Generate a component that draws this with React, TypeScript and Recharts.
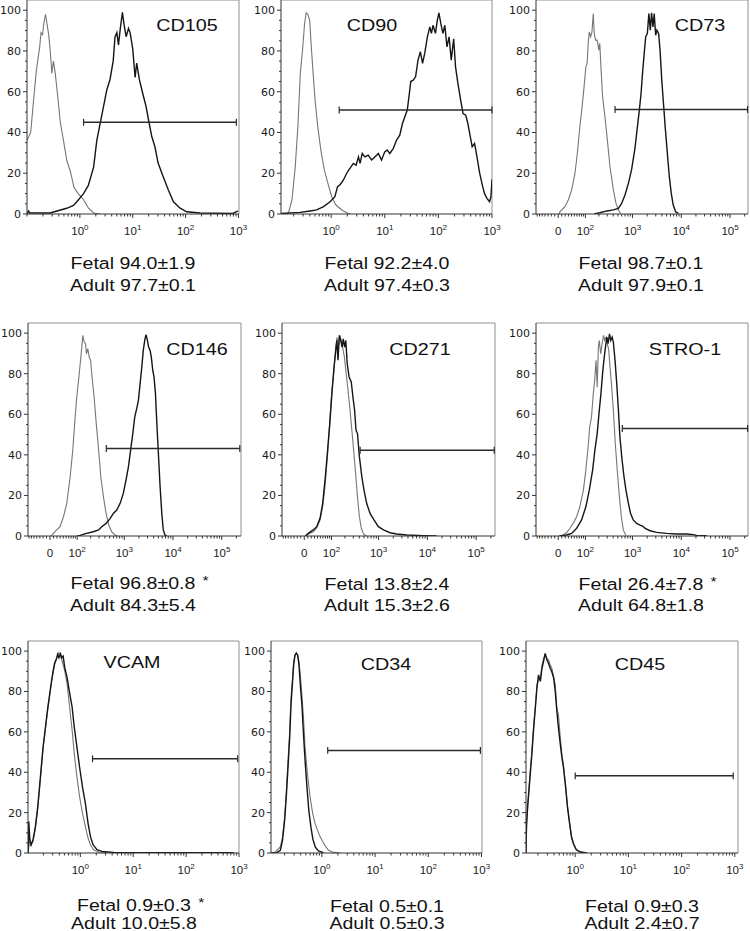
import { LineChart, Line, XAxis, YAxis, ReferenceLine } from "recharts";

type Pt = [number, number];

// x = log10 fluorescence intensity, y = % of max
const cd105Control: Pt[] = [[-1.0, 36], [-0.93, 40], [-0.875, 56], [-0.825, 70], [-0.76, 82], [-0.735, 89], [-0.705, 88], [-0.685, 93], [-0.65, 98], [-0.62, 93], [-0.59, 88], [-0.56, 80], [-0.53, 69], [-0.5, 75], [-0.465, 69], [-0.42, 58], [-0.37, 45], [-0.31, 36], [-0.245, 26], [-0.18, 21], [-0.11, 13], [-0.03, 10], [0.07, 7], [0.16, 3], [0.26, 0.5], [0.38, 0]];
const cd105Stained: Pt[] = [[-1.0, 0], [-0.97, 1.5], [-0.95, 0.5], [-0.56, 0.5], [-0.5, 1], [-0.25, 2.8], [-0.12, 4.2], [-0.03, 6.9], [0.07, 10], [0.16, 14], [0.26, 23], [0.32, 36], [0.38, 44], [0.45, 53], [0.51, 61], [0.57, 66], [0.63, 75], [0.665, 87], [0.7, 89], [0.73, 83], [0.76, 90], [0.805, 99], [0.835, 93], [0.875, 87], [0.92, 91], [0.95, 89], [1.0, 81], [1.045, 67], [1.075, 74], [1.125, 66], [1.19, 59], [1.25, 53], [1.3, 46], [1.36, 38], [1.42, 33], [1.48, 25], [1.58, 18], [1.67, 12], [1.77, 6], [1.89, 3], [2.02, 1.1], [2.27, 0.5], [2.9, 0.3], [2.99, 1.5]];

const cd90Control: Pt[] = [[-0.935, 0], [-0.82, 0], [-0.79, 1], [-0.73, 7], [-0.67, 23], [-0.62, 43], [-0.575, 69], [-0.535, 80], [-0.495, 93.5], [-0.465, 98.7], [-0.435, 98], [-0.4, 95], [-0.37, 82], [-0.34, 70.6], [-0.3, 56], [-0.25, 43], [-0.19, 31], [-0.13, 22], [-0.07, 16], [0.01, 8.5], [0.09, 4.4], [0.2, 2], [0.29, 0.6], [0.35, 0]];
const cd90Stained: Pt[] = [[-0.935, 0.3], [-0.58, 0.8], [-0.39, 1.5], [-0.27, 2], [-0.14, 3.6], [-0.02, 6], [0.07, 8.5], [0.12, 13.4], [0.17, 14.5], [0.23, 16.7], [0.29, 20], [0.35, 22.4], [0.415, 24.8], [0.465, 24], [0.51, 28], [0.54, 24.8], [0.58, 29.7], [0.63, 28], [0.69, 28.9], [0.755, 26.5], [0.815, 28], [0.88, 29.7], [0.94, 26.5], [1.0, 30.5], [1.045, 31.4], [1.095, 29.7], [1.16, 32.2], [1.22, 36.3], [1.28, 38.7], [1.33, 44.4], [1.375, 47.7], [1.42, 51], [1.455, 58.3], [1.485, 65], [1.53, 65.7], [1.575, 67.3], [1.62, 75.5], [1.665, 79.6], [1.705, 73.9], [1.745, 78.8], [1.795, 86.9], [1.84, 91.8], [1.87, 88.6], [1.9, 92.6], [1.945, 88.6], [1.98, 95], [2.01, 98.7], [2.045, 93.5], [2.085, 88.6], [2.12, 92.6], [2.16, 82], [2.2, 86.9], [2.24, 75.5], [2.285, 86], [2.32, 72.2], [2.365, 64], [2.415, 56], [2.46, 49.3], [2.51, 48.5], [2.55, 44.4], [2.595, 38], [2.63, 33], [2.675, 34.6], [2.72, 28], [2.77, 20], [2.82, 14.2], [2.86, 10], [2.905, 7.7], [2.955, 6], [2.98, 8.5], [3.0, 17]];

const cd73Control: Pt[] = [[0.5, 0], [0.68, 1.1], [1.28, 3.6], [1.47, 6.9], [1.61, 11.8], [1.72, 19.9], [1.79, 29.7], [1.86, 42.8], [1.9, 49.3], [1.96, 60.8], [2.01, 72.2], [2.04, 73.9], [2.07, 85.3], [2.09, 89.4], [2.12, 86.9], [2.15, 89.4], [2.18, 98.4], [2.2, 88.6], [2.23, 85.3], [2.265, 85.3], [2.3, 80.4], [2.32, 83.7], [2.345, 72.2], [2.38, 57.5], [2.43, 47.7], [2.48, 36.3], [2.535, 23.2], [2.605, 11.8], [2.66, 5.2], [2.71, 2], [2.755, 0.3]];
const cd73Stained: Pt[] = [[2.2, 0], [2.32, 0.6], [2.47, 1.5], [2.605, 2], [2.71, 2.8], [2.775, 5.2], [2.845, 9.3], [2.915, 15], [2.98, 21.6], [3.05, 32.2], [3.085, 39.6], [3.14, 51], [3.175, 59.1], [3.205, 69], [3.24, 78.8], [3.27, 86.9], [3.305, 88.6], [3.335, 98.4], [3.365, 90.2], [3.39, 98.7], [3.42, 91.8], [3.445, 98.4], [3.475, 87.7], [3.5, 90.2], [3.535, 88.6], [3.565, 80.4], [3.6, 65.7], [3.63, 55.9], [3.67, 42.8], [3.715, 29.7], [3.755, 18.3], [3.795, 10.1], [3.835, 4.4], [3.885, 1.1], [3.94, 0.3]];

const cd146Control: Pt[] = [[0.5, 0], [0.98, 1.3], [1.28, 3], [1.47, 4.6], [1.61, 9.5], [1.72, 16], [1.82, 29.2], [1.89, 42.3], [1.95, 58.7], [1.99, 68.5], [2.04, 78.4], [2.07, 84.9], [2.1, 91.5], [2.13, 98.9], [2.16, 95.6], [2.19, 94.8], [2.21, 89.8], [2.24, 92.3], [2.27, 88.2], [2.3, 86.6], [2.33, 78.4], [2.375, 68.5], [2.42, 55.4], [2.47, 42.3], [2.515, 29.2], [2.57, 19.3], [2.625, 11.1], [2.68, 5.4], [2.74, 2.1], [2.81, 0.5], [2.86, 0]];
const cd146Stained: Pt[] = [[2.0, 0], [2.07, 0.3], [2.21, 1.3], [2.36, 2.1], [2.47, 3], [2.535, 4.6], [2.625, 6.2], [2.71, 8.7], [2.775, 11.1], [2.845, 12.8], [2.915, 16.1], [2.98, 21], [3.035, 27.5], [3.085, 34.1], [3.13, 42.3], [3.175, 50.5], [3.215, 58.7], [3.255, 62.8], [3.29, 66.9], [3.325, 75.1], [3.36, 83.3], [3.39, 91.5], [3.42, 96.4], [3.445, 99.3], [3.475, 96.4], [3.5, 93.1], [3.53, 91.5], [3.555, 88.2], [3.585, 81.6], [3.61, 78.4], [3.64, 70.2], [3.665, 57], [3.7, 40.7], [3.735, 24.3], [3.77, 11.1], [3.8, 3], [3.835, 0.5], [3.87, 0]];

const cd271Control: Pt[] = [[0.5, 0], [1.06, 1], [1.42, 2.1], [1.57, 3.8], [1.69, 7.9], [1.77, 14.4], [1.835, 24.3], [1.9, 39], [1.96, 57], [2.01, 71.8], [2.06, 81.6], [2.1, 93.1], [2.13, 98], [2.16, 93.1], [2.19, 98.9], [2.22, 96.4], [2.25, 93.1], [2.29, 88.2], [2.32, 81.6], [2.36, 73.4], [2.41, 62], [2.46, 48.9], [2.515, 34.1], [2.565, 19.3], [2.605, 9.5], [2.645, 3.8], [2.69, 1], [2.755, 0]];
const cd271Stained: Pt[] = [[0.5, 0], [1.06, 1.3], [1.42, 3], [1.57, 4.6], [1.69, 8.7], [1.77, 16], [1.845, 29.2], [1.905, 42.3], [1.96, 55.4], [2.01, 70.2], [2.06, 83.3], [2.1, 91.5], [2.125, 96.4], [2.15, 86.6], [2.18, 98.9], [2.21, 96.4], [2.24, 93.1], [2.265, 97.2], [2.295, 93.1], [2.32, 96.4], [2.35, 84.9], [2.39, 78.4], [2.435, 75.9], [2.47, 68.5], [2.505, 62], [2.535, 52.1], [2.565, 50.5], [2.605, 39], [2.655, 29.2], [2.7, 22.6], [2.755, 16.1], [2.825, 11.1], [2.905, 7.9], [2.995, 4.6], [3.1, 3], [3.235, 1.6], [3.37, 1], [3.575, 0.5], [3.92, 0.2], [4.19, 0]];

const stro1Control: Pt[] = [[0.5, 0], [1.155, 0.5], [1.38, 1.6], [1.54, 3.8], [1.66, 6.2], [1.77, 9.5], [1.86, 14.4], [1.95, 22.6], [2.01, 32.5], [2.07, 45.6], [2.1, 53.8], [2.14, 58.7], [2.18, 70.2], [2.21, 76.7], [2.24, 86.6], [2.265, 73.4], [2.29, 93.1], [2.31, 96.4], [2.34, 89.8], [2.37, 94.8], [2.4, 98.9], [2.425, 96.4], [2.455, 98], [2.48, 94.8], [2.51, 91.5], [2.535, 83.3], [2.565, 75.1], [2.605, 62], [2.645, 45.6], [2.685, 32.5], [2.73, 19.3], [2.77, 9.5], [2.81, 3], [2.865, 0.3]];
const stro1Stained: Pt[] = [[0.5, 0], [1.38, 0.5], [1.61, 1.3], [1.77, 3.8], [1.905, 7.9], [2.01, 14.4], [2.09, 22.6], [2.165, 32.5], [2.215, 42.3], [2.265, 50.5], [2.31, 62], [2.345, 70.2], [2.385, 81.6], [2.415, 88.2], [2.44, 93.1], [2.47, 98], [2.495, 94.8], [2.525, 99.7], [2.55, 96.4], [2.58, 98], [2.605, 95.6], [2.64, 86.6], [2.675, 75.1], [2.71, 62], [2.74, 48.9], [2.785, 37.4], [2.825, 29.2], [2.865, 22.6], [2.915, 16.1], [2.96, 11.1], [3.015, 7.9], [3.085, 6.2], [3.155, 5.4], [3.205, 4.9], [3.26, 3.8], [3.36, 2.6], [3.495, 1.8], [3.7, 1.3], [3.905, 1], [4.11, 1], [4.245, 0.7], [4.315, 0.3], [4.52, 0.2]];

const vcamControl: Pt[] = [[-0.985, 0], [-0.97, 6.6], [-0.945, 3.6], [-0.895, 5.7], [-0.85, 12.3], [-0.805, 22.1], [-0.755, 36.9], [-0.705, 51.6], [-0.66, 61.5], [-0.615, 71.3], [-0.58, 77.9], [-0.545, 84.4], [-0.515, 89.3], [-0.485, 93.4], [-0.455, 95.9], [-0.43, 97.5], [-0.405, 99.2], [-0.375, 97.5], [-0.345, 95.1], [-0.295, 90.2], [-0.25, 83.6], [-0.21, 73.8], [-0.155, 60.7], [-0.115, 49.2], [-0.065, 37.7], [-0.015, 27.9], [0.04, 19.7], [0.095, 13.1], [0.145, 7.4], [0.19, 4.1], [0.25, 1.6], [0.345, 0.5], [0.565, 0]];
const vcamStained: Pt[] = [[-0.985, 0], [-0.975, 15.6], [-0.955, 6.6], [-0.93, 4.1], [-0.895, 6.6], [-0.85, 13.1], [-0.805, 23], [-0.755, 37.7], [-0.705, 52.5], [-0.66, 62.3], [-0.615, 72.1], [-0.58, 78.7], [-0.545, 85.2], [-0.515, 90.2], [-0.485, 94.3], [-0.455, 95.9], [-0.43, 98.4], [-0.405, 96.7], [-0.375, 98.7], [-0.35, 96.7], [-0.325, 97.5], [-0.295, 91.8], [-0.25, 86.9], [-0.21, 80.3], [-0.155, 72.1], [-0.115, 62.3], [-0.065, 52.5], [-0.015, 42.6], [0.04, 32.8], [0.095, 24.6], [0.145, 14.8], [0.19, 8.2], [0.24, 4.1], [0.315, 1.6], [0.41, 0.8], [0.63, 0.3], [1.0, 0.2], [2.9, 0.2]];

const cd34Control: Pt[] = [[-0.956, 0], [-0.875, 0.5], [-0.78, 3], [-0.74, 7.9], [-0.7, 17.7], [-0.67, 29.2], [-0.64, 43.9], [-0.605, 60.3], [-0.58, 76.7], [-0.555, 85], [-0.53, 94.8], [-0.505, 98], [-0.48, 99.3], [-0.455, 98], [-0.43, 94.8], [-0.405, 88.2], [-0.375, 78.4], [-0.345, 66.9], [-0.315, 52.1], [-0.27, 39], [-0.22, 27.5], [-0.17, 19.3], [-0.125, 14.4], [-0.08, 11.1], [-0.03, 7.9], [0.02, 5.4], [0.07, 3.3], [0.125, 1.3], [0.22, 0.3], [0.345, 0]];
const cd34Stained: Pt[] = [[-0.956, 0], [-0.845, 0.2], [-0.78, 1.3], [-0.74, 6.2], [-0.7, 16.1], [-0.67, 27.5], [-0.64, 40.7], [-0.605, 57], [-0.58, 73.4], [-0.555, 83.3], [-0.53, 93.1], [-0.505, 98], [-0.48, 98.9], [-0.455, 98], [-0.43, 93.1], [-0.405, 83.3], [-0.375, 73.4], [-0.345, 58.7], [-0.315, 45.6], [-0.28, 32.5], [-0.245, 21], [-0.205, 12.8], [-0.17, 7], [-0.125, 3], [-0.065, 1], [0.03, 0.2]];

const cd45Control: Pt[] = [[-0.925, 0], [-0.915, 12.3], [-0.895, 22.6], [-0.855, 37.4], [-0.815, 50.5], [-0.78, 63.6], [-0.75, 71.8], [-0.72, 83.3], [-0.69, 85.8], [-0.655, 86.6], [-0.625, 93.1], [-0.595, 96.4], [-0.565, 98], [-0.53, 96.4], [-0.5, 95.6], [-0.47, 93.1], [-0.44, 91.5], [-0.405, 87.4], [-0.375, 83.3], [-0.345, 71.8], [-0.315, 68.5], [-0.28, 57], [-0.25, 48.9], [-0.22, 43.1], [-0.18, 33.3], [-0.145, 23.4], [-0.105, 15.2], [-0.07, 8.2], [-0.03, 4.6], [0.02, 1.8], [0.095, 0.5], [0.22, 0]];
const cd45Stained: Pt[] = [[-0.925, 0], [-0.915, 14.4], [-0.895, 22.6], [-0.855, 35.7], [-0.815, 48.9], [-0.78, 62], [-0.75, 71.8], [-0.72, 81.6], [-0.69, 88.2], [-0.655, 85], [-0.625, 91.5], [-0.595, 94.8], [-0.565, 98.9], [-0.53, 95.6], [-0.5, 93.9], [-0.47, 91.5], [-0.44, 89.8], [-0.405, 86.6], [-0.375, 80], [-0.345, 70.2], [-0.315, 62], [-0.28, 53.8], [-0.25, 47.2], [-0.22, 42.3], [-0.18, 32.5], [-0.145, 22.6], [-0.105, 14.4], [-0.07, 7.9], [-0.03, 4.3], [0.02, 1.6], [0.095, 0.5], [0.22, 0]];

const markers = ["CD105", "CD90", "CD73", "CD146", "CD271", "STRO-1", "VCAM", "CD34", "CD45"];
const axisKinds = ["log", "log", "biex", "biex", "biex", "biex", "log", "log", "log"];
const controls = [cd105Control, cd90Control, cd73Control, cd146Control, cd271Control, stro1Control, vcamControl, cd34Control, cd45Control];
const stained = [cd105Stained, cd90Stained, cd73Stained, cd146Stained, cd271Stained, stro1Stained, vcamStained, cd34Stained, cd45Stained];

// positive gate, log10 intensity from/to, and its height (% of max)
const gateFrom = [0.07, 0.15, 2.64, 2.63, 2.62, 2.79, 0.23, 0.11, 0.0];
const gateTo = [2.96, 3.0, 5.36, 5.37, 5.37, 5.36, 2.975, 2.98, 2.97];
const gateLevel = [45, 51, 51.3, 43.1, 42.3, 53, 46.7, 50.8, 38.2];

const fetalMean = ["94.0", "92.2", "98.7", "96.8", "13.8", "26.4", "0.9", "0.5", "0.9"];
const fetalSd = ["1.9", "4.0", "0.1", "0.8", "2.4", "7.8", "0.3", "0.1", "0.3"];
const adultMean = ["97.7", "97.4", "97.9", "84.3", "15.3", "64.8", "10.0", "0.5", "2.4"];
const adultSd = ["0.1", "0.3", "0.1", "5.4", "2.6", "1.8", "5.8", "0.3", "0.7"];
const significant = [false, false, false, true, false, true, true, false, false];

const yTicks = [0, 5, 10, 15, 20, 25, 30, 35, 40, 45, 50, 55, 60, 65, 70, 75, 80, 85, 90, 95, 100];
const logDecades = [0, 1, 2, 3];
const biexMajors = [0, 100, 1000, 10000, 100000];

// layout of each plot box on the page
const boxes = [
  { left: 27, top: 0, w: 212, h: 214, xMin: -1, xMax: 3.01, title: [187, 26], stats: [133, 263, 285] },
  { left: 281, top: 0, w: 211, h: 214, xMin: -0.935, xMax: 3.0, title: [372, 26], stats: [387, 263, 285] },
  { left: 536, top: 0, w: 212, h: 214, xMin: -1.05, xMax: 8.96, title: [700, 26], stats: [641, 263, 285] },
  { left: 28, top: 323, w: 213, h: 213, xMin: -1.04, xMax: 9.02, title: [197, 350], stats: [133, 583, 605] },
  { left: 282, top: 323, w: 213, h: 213, xMin: -1.05, xMax: 9.0, title: [420, 350], stats: [387, 584, 605] },
  { left: 536, top: 323, w: 212, h: 213, xMin: -1.05, xMax: 8.96, title: [685, 350], stats: [641, 584, 605] },
  { left: 28, top: 641, w: 211, h: 212, xMin: -0.99, xMax: 3.0, title: [132, 663], stats: [134, 905, 923] },
  { left: 271, top: 641, w: 211, h: 212, xMin: -0.956, xMax: 3.01, title: [386, 665], stats: [387, 906, 923] },
  { left: 526, top: 641, w: 212, h: 212, xMin: -0.925, xMax: 3.06, title: [640, 665], stats: [642, 906, 923] },
];

const Y_MAX = 105;
const ML = 40;
const MT = 10;

const biex = (v: number) => Math.asinh(v / 60);
const toAxis = (kind: string, L: number) => (kind === "log" ? L : biex(Math.pow(10, L)));

function buildTicks(kind: string, lo: number, hi: number) {
  const ticks: number[] = [];
  const labels = new Map<number, string>();
  if (kind === "log") {
    for (let k = -1; k <= 3; k++) {
      for (let m = 1; m <= 9; m++) {
        const v = k + Math.log10(m);
        if (v < lo - 1e-6 || v > hi + 1e-6) continue;
        ticks.push(v);
        if (m === 1 && logDecades.includes(k)) labels.set(v, String(k));
      }
    }
  } else {
    const raw: number[] = [];
    for (let m = 9; m >= 1; m--) raw.push(-m * 10);
    raw.push(0);
    for (let k = 1; k <= 5; k++) for (let m = 1; m <= 9; m++) raw.push(m * Math.pow(10, k));
    for (const r of raw) {
      const v = biex(r);
      if (v < lo || v > hi) continue;
      ticks.push(v);
      if (biexMajors.includes(r)) labels.set(v, r === 0 ? "zero" : String(Math.round(Math.log10(r))));
    }
  }
  return { ticks, labels };
}

const tickFont = "'Liberation Sans', Arial, sans-serif";

function YTick(props: any) {
  const { x, y, payload } = props;
  const v = payload.value;
  const major = v % 20 === 0;
  return (
    <g>
      <line x1={x - (major ? 4 : 2)} x2={x} y1={y} y2={y} stroke="#333" strokeWidth={1} />
      {major && (
        <text x={x - 6} y={y} dy={4} textAnchor="end" fontSize={11} fontFamily="'DejaVu Sans', sans-serif" fill="#1a1a1a">
          {v}
        </text>
      )}
    </g>
  );
}

function renderXTick(props: any, labels: Map<number, string>) {
  const { x, y, payload } = props;
  const lab = labels.get(payload.value);
  return (
    <g>
      <line x1={x} x2={x} y1={y} y2={y + (lab !== undefined ? 4 : 2.5)} stroke="#333" strokeWidth={1} />
      {lab === "zero" && (
        <text x={x} y={y + 20.5} textAnchor="middle" fontSize={11.5} fontFamily={tickFont} fill="#1a1a1a">0</text>
      )}
      {lab !== undefined && lab !== "zero" && (
        <text x={x} y={y + 20.5} textAnchor="middle" fontSize={11.5} fontFamily={tickFont} fill="#1a1a1a">
          <tspan>10</tspan>
          <tspan dy={-5} fontSize={8}>{lab}</tspan>
        </text>
      )}
    </g>
  );
}

function Histogram({ i }: { i: number }) {
  const b = boxes[i];
  const kind = axisKinds[i];
  const ctrl = controls[i].map(([L, y]) => ({ x: toAxis(kind, L), y }));
  const stn = stained[i].map(([L, y]) => ({ x: toAxis(kind, L), y }));
  const { ticks, labels } = buildTicks(kind, b.xMin, b.xMax);
  const g0 = toAxis(kind, gateFrom[i]);
  const g1 = toAxis(kind, gateTo[i]);
  const gl = gateLevel[i];
  const cap = 1.7;
  return (
    <div style={{ position: "absolute", left: b.left - ML, top: b.top - MT }}>
      <LineChart width={b.w + ML + 10} height={b.h + MT + 30} margin={{ top: MT, right: 10, bottom: 0, left: 0 }}>
        <XAxis
          type="number"
          dataKey="x"
          domain={[b.xMin, b.xMax]}
          allowDataOverflow
          ticks={ticks}
          interval={0}
          tickSize={0}
          tickMargin={0}
          tickLine={false}
          axisLine={{ stroke: "#333" }}
          tick={(p: any) => renderXTick(p, labels)}
          height={30}
        />
        <YAxis
          type="number"
          domain={[0, Y_MAX]}
          allowDataOverflow
          ticks={yTicks}
          interval={0}
          tickSize={0}
          tickMargin={0}
          tickLine={false}
          axisLine={{ stroke: "#333" }}
          tick={YTick}
          width={ML}
        />
        <ReferenceLine y={Y_MAX} stroke="#8f8f8f" strokeWidth={1} />
        <ReferenceLine x={b.xMax} stroke="#8f8f8f" strokeWidth={1} />
        <Line data={ctrl} dataKey="y" type="linear" dot={false} stroke="#767676" strokeWidth={1.1} isAnimationActive={false} />
        <Line data={stn} dataKey="y" type="linear" dot={false} stroke="#151515" strokeWidth={1.4} isAnimationActive={false} />
        <ReferenceLine segment={[{ x: g0, y: gl }, { x: g1, y: gl }]} stroke="#2a2a2a" strokeWidth={1.5} ifOverflow="visible" />
        <ReferenceLine segment={[{ x: g0, y: gl - cap }, { x: g0, y: gl + cap }]} stroke="#2a2a2a" strokeWidth={1.2} ifOverflow="visible" />
        <ReferenceLine segment={[{ x: g1, y: gl - cap }, { x: g1, y: gl + cap }]} stroke="#2a2a2a" strokeWidth={1.2} ifOverflow="visible" />
      </LineChart>
    </div>
  );
}

const textFont = "'Liberation Sans', Arial, Helvetica, sans-serif";

function Caption({ i }: { i: number }) {
  const b = boxes[i];
  const [cx, y1, y2] = b.stats;
  const line = (top: number, content: any) => (
    <div
      style={{
        position: "absolute",
        left: cx - 110,
        width: 220,
        top: top - 8,
        height: 16,
        lineHeight: "16px",
        textAlign: "center",
        fontSize: 16.3,
        fontFamily: textFont,
        color: "#111",
        transform: "scaleX(1.2)",
        whiteSpace: "nowrap",
      }}
    >
      {content}
    </div>
  );
  return (
    <>
      <div
        style={{
          position: "absolute",
          left: b.title[0] - 60,
          width: 120,
          top: b.title[1] - 11,
          height: 22,
          lineHeight: "22px",
          textAlign: "center",
          fontSize: 17,
          fontFamily: textFont,
          color: "#111",
          transform: "scaleX(1.16)",
        }}
      >
        {markers[i]}
      </div>
      {line(
        y1,
        <span style={{ position: "relative" }}>
          Fetal {fetalMean[i]}±{fetalSd[i]}
          {significant[i] && (
            <span style={{ position: "absolute", left: "100%", top: -1, marginLeft: 6, fontSize: 13 }}>*</span>
          )}
        </span>
      )}
      {line(y2, <span>Adult {adultMean[i]}±{adultSd[i]}</span>)}
    </>
  );
}

export default function App() {
  return (
    <div style={{ position: "absolute", left: 0, top: 0, width: 750, height: 931, overflow: "hidden", background: "#fff" }}>
      {markers.map((m, i) => (
        <Histogram key={m} i={i} />
      ))}
      {markers.map((m, i) => (
        <Caption key={"c" + m} i={i} />
      ))}
    </div>
  );
}
